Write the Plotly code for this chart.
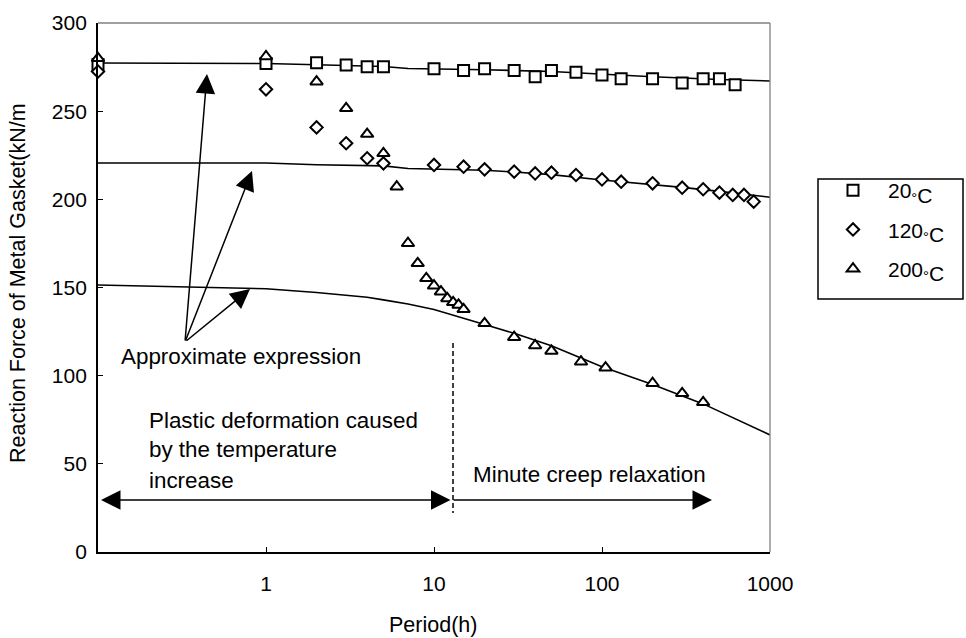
import plotly.graph_objects as go

# ---------------- data ----------------
sq_x = [0.1, 1, 2, 3, 4, 5, 10, 15, 20, 30, 40, 50, 70, 100, 130, 200, 300, 400, 500, 620]
sq_y = [276.5, 277, 277.5, 276.2, 275.2, 275.2, 274, 273, 274, 273, 269.5, 273, 272, 270.5, 268.4, 268.4, 266, 268.4, 268.4, 265]

di_x = [0.1, 1, 2, 3, 4, 5, 10, 15, 20, 30, 40, 50, 70, 100, 130, 200, 300, 400, 500, 600, 700, 800]
di_y = [272.5, 262.4, 240.8, 231.8, 223.3, 220.4, 219.5, 218.5, 217, 215.7, 214.7, 215.1, 213.8, 211.3, 210, 209.1, 206.6, 205.7, 203.8, 202.5, 202.5, 198.7]

tr_x = [0.1, 1, 2, 3, 4, 5, 6, 7, 8, 9, 10, 11, 12, 13, 14, 15, 20, 30, 40, 50, 75, 105, 200, 300, 400]
tr_y = [280, 281, 266.7, 251.6, 237, 226.1, 207.2, 175.1, 163.7, 155.2, 151, 147.6, 143.8, 141.6, 140.1, 137.6, 129.7, 121.8, 117.1, 114, 107.9, 104.5, 95.7, 90, 84.9]

fit20_x = [0.1, 1, 2, 5, 7, 10, 20, 50, 100, 200, 500, 1000]
fit20_y = [277.3, 277, 276.3, 275.3, 274.2, 274, 273.5, 272.5, 270.8, 269.5, 268, 267.1]

fit120_x = [0.1, 1, 2, 4, 5, 7, 10, 15, 20, 30, 50, 100, 200, 300, 500, 1000]
fit120_y = [220.6, 220.6, 219.6, 219.2, 219, 217.5, 217.2, 217, 216.5, 215.5, 214, 211, 208.5, 206.8, 204.5, 201.2]

fit200_x = [0.1, 1, 2, 3, 4, 5, 7, 10, 13, 20, 30, 50, 100, 200, 400, 1000]
fit200_y = [151.4, 149.3, 147.2, 145.7, 144.5, 143, 140.6, 137.5, 134.4, 129, 124, 117, 105, 95, 84, 66.4]

series_names = [
    "20<sub>°<span style='font-size:21px'>C</span></sub>",
    "120<sub>°<span style='font-size:21px'>C</span></sub>",
    "200<sub>°<span style='font-size:21px'>C</span></sub>",
]
x_tickvals = [0.1, 1, 10, 100, 1000]
x_ticktext = ["", "1", "10", "100", "1000"]
y_tickvals = [0, 50, 100, 150, 200, 250, 300]

# ---------------- layout geometry ----------------
L, T, R, B = 98, 23, 770, 552
W, H = 966, 638
FONT = "Liberation Sans, Arial, sans-serif"


def px(x):
    return (x - L) / (R - L)


def py(y):
    return (B - y) / (B - T)


fig = go.Figure()

line_style = dict(color="black", width=1.6)
for fx, fy in [(fit20_x, fit20_y), (fit120_x, fit120_y), (fit200_x, fit200_y)]:
    fig.add_trace(go.Scatter(x=fx, y=fy, mode="lines", line=line_style,
                             showlegend=False, hoverinfo="skip", cliponaxis=False))

marker_line = dict(color="black", width=2)
fig.add_trace(go.Scatter(x=sq_x, y=sq_y, mode="markers", name=series_names[0], legendgroup="a",
                         marker=dict(symbol="square", size=11, color="white", line=marker_line),
                         cliponaxis=False))
fig.add_trace(go.Scatter(x=di_x, y=di_y, mode="markers", name=series_names[1], legendgroup="b",
                         marker=dict(symbol="diamond", size=9.5, color="white", line=marker_line),
                         cliponaxis=False))
fig.add_trace(go.Scatter(x=tr_x, y=tr_y, mode="markers", name=series_names[2], legendgroup="c",
                         marker=dict(symbol="triangle-up", size=11, color="white", line=marker_line),
                         cliponaxis=False))

annotations = []
arrow_common = dict(xref="paper", yref="paper", text="", showarrow=True, arrowhead=2,
                    arrowsize=2.6, arrowwidth=1.5, arrowcolor="black")
tail = (185, 342)
for tip in [(207, 74), (252, 171), (250, 289)]:
    annotations.append(dict(x=px(tip[0]), y=py(tip[1]), ax=tail[0] - tip[0], ay=tail[1] - tip[1],
                            **arrow_common))
# double-headed arrow (plastic deformation)
annotations.append(dict(x=px(101), y=py(500), ax=452 - 101, ay=0, arrowside="end+start", **arrow_common))
# creep arrow
annotations.append(dict(x=px(712), y=py(500), ax=452 - 712, ay=0, **arrow_common))

text_common = dict(xref="paper", yref="paper", showarrow=False, xanchor="left", yanchor="middle",
                   font=dict(family=FONT, size=22.4, color="black"))
annotations.append(dict(x=px(119), y=py(356), text="Approximate expression", **text_common))
annotations.append(dict(x=px(147), y=py(420), text="Plastic deformation caused", **text_common))
annotations.append(dict(x=px(147), y=py(450), text="by the temperature", **text_common))
annotations.append(dict(x=px(147), y=py(480), text="increase", **text_common))
annotations.append(dict(x=px(471), y=py(474), text="Minute creep relaxation", **text_common))

# axis titles
annotations.append(dict(x=px(18), y=py(283), text="Reaction Force of Metal Gasket(kN/m",
                        textangle=-90, xref="paper", yref="paper", showarrow=False,
                        xanchor="center", yanchor="middle",
                        font=dict(family=FONT, size=21.5, color="black")))
annotations.append(dict(x=px(433), y=py(625), text="Period(h)", xref="paper", yref="paper",
                        showarrow=False, xanchor="center", yanchor="middle",
                        font=dict(family=FONT, size=21.5, color="black")))

shapes = [
    dict(type="line", xref="paper", yref="paper", x0=px(453), x1=px(453), y0=py(343), y1=py(513),
         line=dict(color="black", width=1.5, dash="5px,3px")),
    dict(type="line", xref="paper", yref="paper", x0=0, x1=1, y0=1, y1=1,
         line=dict(color="#808080", width=1.3)),
    dict(type="line", xref="paper", yref="paper", x0=1, x1=1, y0=0, y1=1,
         line=dict(color="#808080", width=1.3)),
    # legend frame
    dict(type="rect", xref="paper", yref="paper", x0=px(818), x1=px(963), y0=py(179), y1=py(299),
         line=dict(color="black", width=1.5), fillcolor="rgba(0,0,0,0)"),
]

fig.update_layout(
    width=W, height=H, autosize=False,
    margin=dict(l=L, r=W - R, t=T, b=H - B, pad=0),
    paper_bgcolor="white", plot_bgcolor="white",
    font=dict(family=FONT, size=21, color="black"),
    showlegend=True,
    legend=dict(x=px(818), y=py(170), xanchor="left", yanchor="top",
                borderwidth=0, bgcolor="rgba(0,0,0,0)",
                itemwidth=60, tracegroupgap=9,
                font=dict(family=FONT, size=21, color="black")),
    annotations=annotations,
    shapes=shapes,
    xaxis=dict(type="log", range=[-1, 3], tickvals=x_tickvals, ticktext=x_ticktext,
               showgrid=False, zeroline=False, showline=True, linecolor="black", linewidth=1.8,
               ticks="inside", ticklen=5, tickwidth=1.3, tickcolor="black",
               ticklabelstandoff=12, tickfont=dict(family=FONT, size=21, color="black")),
    yaxis=dict(range=[0, 300], tickvals=y_tickvals,
               showgrid=False, zeroline=False, showline=True, linecolor="black", linewidth=1.8,
               ticks="inside", ticklen=5, tickwidth=1.3, tickcolor="black",
               ticklabelstandoff=5, tickfont=dict(family=FONT, size=21, color="black")),
)

fig.write_html("out.html")
